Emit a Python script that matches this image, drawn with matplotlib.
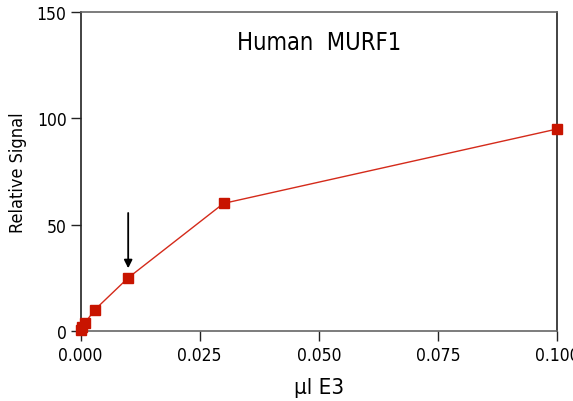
import numpy as np
import matplotlib
matplotlib.use('Agg')
import matplotlib.pyplot as plt

plt.rcParams['font.family'] = ['DejaVu Sans']
plt.rcParams['font.stretch'] = 'condensed'

# E3 titration, human MURF1
e3_ul = [0.0, 0.0003, 0.001, 0.003, 0.01, 0.03, 0.1]
signal = [0.5, 2, 4, 10, 25, 60, 95]
xticks = [0.0, 0.025, 0.05, 0.075, 0.1]
yticks = [0, 50, 100, 150]

fig = plt.figure(figsize=(5.73, 4.02), dpi=100)
ax = fig.add_axes([0.1405, 0.1741, 0.9726 - 0.1405, 0.9677 - 0.1741])

ax.plot(e3_ul, signal, color='#d42a1a', lw=1.0, marker='s', markersize=7,
        markerfacecolor='#c81400', markeredgecolor='#c81400', clip_on=False, zorder=3)

# arrow marking the 0.01 ul point
ax.annotate('', xy=(0.01, 29.5), xytext=(0.01, 55.5),
            arrowprops=dict(arrowstyle='-|>', color='black', lw=1.3,
                            mutation_scale=12, shrinkA=0, shrinkB=0))

ax.set_xlim(0, 0.1)
ax.set_ylim(0, 150)
ax.set_xticks(xticks)
ax.set_xticklabels(['%.3f' % t for t in xticks])
ax.set_yticks(yticks)
ax.tick_params(axis='both', labelsize=12.5, length=7, width=1.0, color='#222222')
ax.tick_params(axis='x', pad=4)
ax.tick_params(axis='y', pad=3)

for side in ['left', 'right']:
    ax.spines[side].set_color('#222222')
for side in ['top', 'bottom']:
    ax.spines[side].set_color('#666666')
for s in ax.spines.values():
    s.set_linewidth(1.2)

ax.set_xlabel('\u00b5l E3', fontsize=16, labelpad=9)
ax.set_ylabel('Relative Signal', fontsize=13, labelpad=7)
ax.text(0.5, 0.907, 'Human  MURF1', transform=ax.transAxes, ha='center', va='center',
        fontsize=17)

plt.savefig('out.png', dpi=100)
